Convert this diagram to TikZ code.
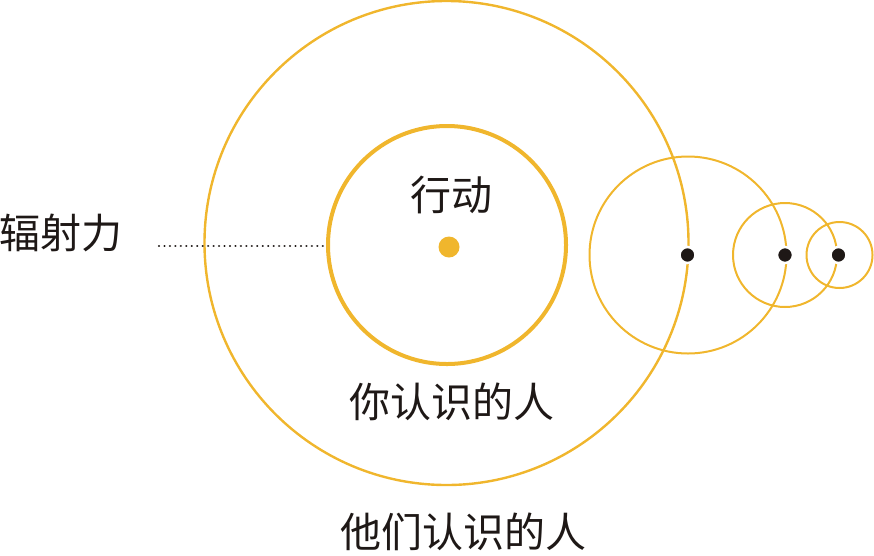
\documentclass[tikz,border=0pt]{standalone}
\usepackage{fontspec}
\newfontfamily\cjk{Noto Sans CJK SC}
\definecolor{gold}{RGB}{240,182,45}
\definecolor{ink}{RGB}{30,24,22}
\begin{document}
\begin{tikzpicture}[x=1pt,y=-1pt,
  ring/.style={circle,draw=gold,inner sep=0pt,outer sep=0pt,line width=#1},
  blackdot/.style={circle,fill=ink,draw=white,line width=2.5pt,minimum size=16pt,inner sep=0pt},
  lbl/.style={font=\cjk\fontsize{41}{44}\selectfont,text=ink,inner sep=0pt}]
\useasboundingbox (0,0) rectangle (874,555);
% circles
\node[ring=2.4pt,minimum size=484pt] (outer) at (446.5,243) {};
\node[ring=4pt,minimum size=238pt] (inner) at (447,245) {};
\node[ring=2pt,minimum size=197pt] (c2) at (688,255) {};
\node[ring=2pt,minimum size=104pt] (c3) at (785,255) {};
\node[ring=2pt,minimum size=66pt] (c4) at (839.5,255) {};
% dots
\node[circle,fill=gold,minimum size=21pt,inner sep=0pt] (core) at (449,247) {};
\node[blackdot] (d2) at (687.5,255) {};
\node[blackdot] (d3) at (785,255) {};
\node[blackdot] (d4) at (838.5,255) {};
% labels
\node[lbl] (act) at (451,195) {行动};
\node[lbl] (you) at (452,402) {你认识的人};
\node[lbl] (they) at (463,532) {他们认识的人};
\node[lbl] (rad) at (61,233) {辐射力};
% dotted line
\coordinate (ls) at (159,246);
\draw[ink,line width=2.4pt,line cap=round,dash pattern=on 0.01pt off 5.45pt,shorten >=3pt] (ls) -- (inner.west |- ls);
\end{tikzpicture}
\end{document}
